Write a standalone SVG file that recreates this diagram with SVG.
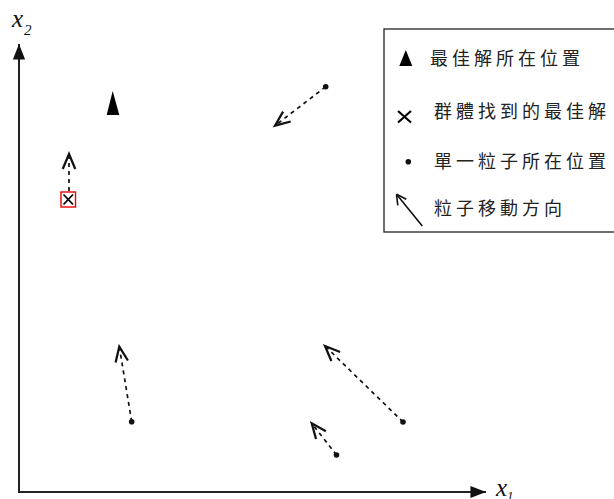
<svg xmlns="http://www.w3.org/2000/svg" width="614" height="499" viewBox="0 0 614 499">
<style>
.axis{stroke:#222;stroke-width:2;fill:none}
.mv{stroke:#111;stroke-width:1.7;fill:none;stroke-dasharray:4 4;marker-end:url(#open)}
.dot{fill:#111}
.leg{font-family:"Noto Sans CJK TC","Noto Sans CJK SC",sans-serif;font-size:18px;letter-spacing:4px;fill:#222}
.var{font-family:"Liberation Serif",serif;font-style:italic;fill:#111}
</style>
<defs>
<marker id="open" markerUnits="userSpaceOnUse" markerWidth="20" markerHeight="20" refX="0" refY="0" viewBox="-14 -8 16 16" orient="auto" overflow="visible">
<path d="M-12,-5 L0,0 L-12,5" stroke="#111" stroke-width="1.8" fill="none" stroke-dasharray="none"/>
</marker>
<marker id="solidhead" markerUnits="userSpaceOnUse" markerWidth="20" markerHeight="20" refX="0" refY="0" viewBox="-16 -8 18 16" orient="auto" overflow="visible">
<path d="M-14,-5.5 L0,0 L-14,5.5 Z" fill="#111"/>
</marker>
</defs>
<rect width="614" height="499" fill="#fff"/>
<g id="axes">
<line class="axis" x1="19" y1="492" x2="19" y2="44" marker-end="url(#solidhead)"/>
<line class="axis" x1="18" y1="492" x2="486" y2="492" marker-end="url(#solidhead)"/>
<text class="var" x="12" y="27" font-size="25">x</text>
<text class="var" x="24" y="35" font-size="15">2</text>
<text class="var" x="496" y="496" font-size="25">x</text>
<text class="var" x="507" y="500" font-size="13">1</text>
</g>
<g id="best">
<polygon points="112.7,91 119.3,115 106.7,115" fill="#000"/>
</g>
<g id="swarm-best">
<rect x="61" y="192" width="14.5" height="15" fill="none" stroke="#e00" stroke-width="1.4"/>
<path d="M63.5,194.5 L73,204.5 M73,194.5 L63.5,204.5" stroke="#000" stroke-width="1.8"/>
</g>
<g id="connectors">
<line class="mv" x1="69" y1="191" x2="69" y2="154"/>
<line class="mv" x1="325.7" y1="86.7" x2="275" y2="125.7"/>
<line class="mv" x1="131.7" y1="421.7" x2="119.3" y2="346.7"/>
<line class="mv" x1="403" y1="422" x2="325" y2="346"/>
<line class="mv" x1="336.5" y1="455" x2="311.7" y2="423.3"/>
</g>
<g id="particles">
<circle class="dot" cx="325.7" cy="86.7" r="2.8"/>
<circle class="dot" cx="131.7" cy="421.7" r="2.8"/>
<circle class="dot" cx="403" cy="422" r="2.8"/>
<circle class="dot" cx="336.5" cy="455" r="2.8"/>
</g>
<g id="legend">
<rect x="384" y="29" width="240" height="203" fill="none" stroke="#222" stroke-width="1.3"/>
<polygon points="405.8,50 412.3,66 399.3,66" fill="#000"/>
<text class="leg" x="430" y="65">最佳解所在位置</text>
<path d="M398,111 L411,122.5 M411,111 L398,122.5" stroke="#000" stroke-width="2.2"/>
<text class="leg" x="434" y="118">群體找到的最佳解</text>
<circle class="dot" cx="408.3" cy="161.7" r="2.8"/>
<text class="leg" x="434" y="168">單一粒子所在位置</text>
<line x1="422.3" y1="226" x2="396.5" y2="194.3" stroke="#111" stroke-width="1.6"/>
<path d="M396.5,194.3 l1.3,11 M396.5,194.3 l9.8,5" stroke="#111" stroke-width="1.6" fill="none"/>
<text class="leg" x="434" y="215">粒子移動方向</text>
</g>
</svg>
